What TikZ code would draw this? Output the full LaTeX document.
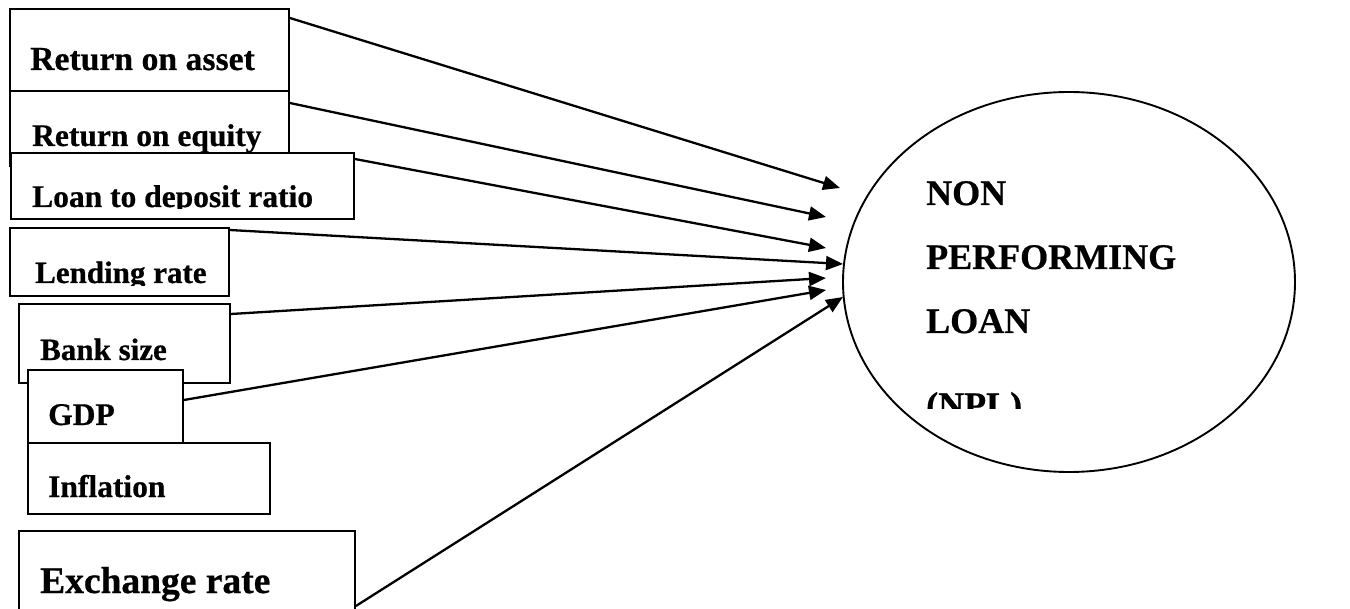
\documentclass[tikz,border=0pt]{standalone}
\usepackage{fontspec}
\setmainfont{Liberation Serif}[BoldFeatures={FakeBold=0.6}]
\usetikzlibrary{arrows.meta,shapes.geometric,calc}
\begin{document}
\begin{tikzpicture}[x=1pt,y=-1pt,
 box/.style={draw,line width=1.9pt,fill=white,rectangle,inner sep=0pt,anchor=north west},
 lbl/.style={anchor=base west,inner sep=0pt,font=\bfseries},
 conn/.style={line width=2.3pt,-{Triangle[length=17pt,width=14pt]}}]
\useasboundingbox (0,0) rectangle (1350,609);
\clip (0,0) rectangle (1350,609);
% boxes and labels
\node[box,minimum width=279pt,minimum height=82pt] (roa) at (9,8) {};
\node[lbl] (roat) at (30,70) {\fontsize{33.7}{40}\selectfont Return on asset};
\node[box,minimum width=279pt,minimum height=75pt] (roe) at (9,90) {};
\node[lbl] (roet) at (32,146) {\fontsize{31.5}{38}\selectfont Return on equity};
\node[box,minimum width=343pt,minimum height=66pt] (loan) at (10,152) {};
\begin{scope}
\clip (10,150) rectangle (353,209);
\node[lbl] (loant) at (32,207) {\fontsize{31.5}{38}\selectfont Loan to deposit ratio};
\end{scope}
\node[box,minimum width=219pt,minimum height=68pt] (lend) at (9,227) {};
\begin{scope}
\clip (9,225) rectangle (228,286);
\node[lbl] (lendt) at (35,283) {\fontsize{31}{38}\selectfont Lending rate};
\end{scope}
\node[box,minimum width=211pt,minimum height=79pt] (bank) at (18,303) {};
\node[lbl] (bankt) at (40,360) {\fontsize{31}{38}\selectfont Bank size};
\node[box,minimum width=155pt,minimum height=81pt] (gdp) at (27,369) {};
\node[lbl] (gdpt) at (48,425) {\fontsize{31.5}{38}\selectfont GDP};
\node[box,minimum width=242pt,minimum height=71pt] (infl) at (27,442) {};
\node[lbl] (inflt) at (48,497) {\fontsize{31.5}{38}\selectfont Inflation};
\node[box,minimum width=336pt,minimum height=110pt] (exch) at (18,530) {};
\node[lbl] (excht) at (40,593) {\fontsize{37.5}{44}\selectfont Exchange rate};
% outcome ellipse
\node[draw,ellipse,line width=1.9pt,inner sep=0pt,minimum width=452pt,minimum height=380pt] (npl) at (1069,282) {};
\node[lbl] (n1) at (926,205) {\fontsize{36}{42}\selectfont NON};
\node[lbl] (n2) at (926,269) {\fontsize{36}{42}\selectfont PERFORMING};
\node[lbl] (n3) at (926,333) {\fontsize{36}{42}\selectfont LOAN};
\begin{scope}
\clip (880,380) rectangle (1200,409);
\node[lbl] (n4) at (926,417) {\fontsize{36}{42}\selectfont (NPL)};
\end{scope}
% arrow tips
\coordinate (t1) at (840,188);
\coordinate (t2) at (826,217);
\coordinate (t3) at (826,248);
\coordinate (t4) at (843,264);
\coordinate (t5) at (826,278);
\coordinate (t6) at (826,290);
\coordinate (t7) at (843,297);
\draw[conn] ($(roa.north east)+(0,10)$) -- (t1);
\draw[conn] ($(roe.north east)+(0,13)$) -- (t2);
\draw[conn] ($(loan.north east)+(0,7)$) -- (t3);
\draw[conn] ($(lend.north east)+(0,3)$) -- (t4);
\draw[conn] ($(bank.north east)+(0,11)$) -- (t5);
\draw[conn] ($(gdp.north east)+(0,31)$) -- (t6);
\draw[conn] ($(exch.north east)+(0,76)$) -- (t7);
\end{tikzpicture}
\end{document}
